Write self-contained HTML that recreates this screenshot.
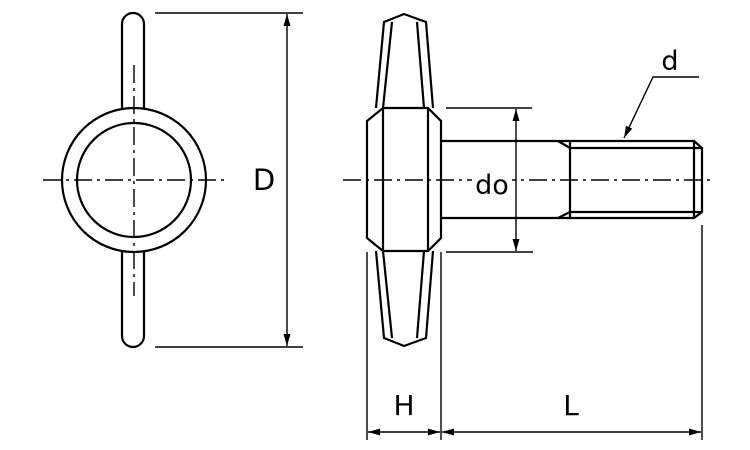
<!DOCTYPE html><html><head><style>body{margin:0;background:#fff}svg{display:block}text{font-family:"DejaVu Sans","Liberation Sans",sans-serif;fill:#000}</style></head><body>
<svg width="750" height="450" viewBox="0 0 750 450" xmlns="http://www.w3.org/2000/svg">
<defs><marker id="a" viewBox="0 0 12 10" refX="12" refY="5" markerWidth="12" markerHeight="10" markerUnits="userSpaceOnUse" orient="auto-start-reverse"><path d="M0,1.5 L12,5 L0,8.5 z" fill="#000"/></marker></defs>
<g fill="none" stroke="#000" stroke-width="2.2">
<path d="M122,112 V24 A11,11 0 0 1 144,24 V112"/>
<path d="M122,248 V336 A11,11 0 0 0 144,336 V248"/>
<circle cx="134" cy="180" r="72" fill="#fff"/>
<circle cx="134" cy="180" r="57"/>
<path d="M376,108 L384,22 L404,14 L426,22 L433,108"/>
<path d="M383,108 L392,22 M424,108 L417,22"/>
<path d="M376,251 L384,338 L404,346 L426,338 L433,251"/>
<path d="M383,251 L392,338 M424,251 L417,338"/>
<path d="M383,108 H428 L441,121 V238 L428,251 H383 L367,238 V121 Z"/>
<path d="M383,108 V251 M428,108 V251"/>
<path d="M441,141 H694 L702,148 V212 L694,218 H441"/>
<path d="M558,141 L570,148 H702 M558,218 L570,212 H702 M570,141 V218 M694,141 V218"/>
</g>
<g fill="none" stroke="#000" stroke-width="1.4">
<path d="M43,180 H226 M134,65 V296" stroke-dasharray="18,5,3,5"/>
<path d="M343,180 H712" stroke-dasharray="18,5,3,5"/>
<path d="M155,13 H303 M155,347 H303"/>
<path d="M287,14 V346" marker-start="url(#a)" marker-end="url(#a)"/>
<path d="M446,108 H532 M446,252 H533"/>
<path d="M516,109 V251" marker-start="url(#a)" marker-end="url(#a)"/>
<path d="M699,77 H653 L624,138" marker-end="url(#a)"/>
<path d="M367,252 V440 M441,252 V440 M702,225 V440"/>
<path d="M368,432 H440" marker-start="url(#a)" marker-end="url(#a)"/>
<path d="M442,432 H701" marker-start="url(#a)" marker-end="url(#a)"/>
</g>
<rect x="472" y="168" width="40" height="26" fill="#fff"/>
<text x="264" y="190" font-size="29" text-anchor="middle">D</text>
<text x="492" y="194" font-size="27" text-anchor="middle">do</text>
<text x="670" y="70" font-size="27" text-anchor="middle">d</text>
<text x="404" y="415" font-size="28" text-anchor="middle">H</text>
<text x="571" y="415" font-size="28" text-anchor="middle">L</text>
</svg></body></html>
